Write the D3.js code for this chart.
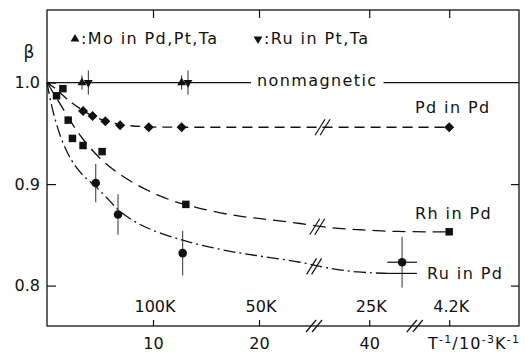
<!DOCTYPE html>
<html>
<head>
<meta charset="utf-8">
<script src="https://cdn.jsdelivr.net/npm/d3@7"></script>
<style>
  body { margin: 0; background: #fff; }
  text { font-family: "DejaVu Sans", sans-serif; fill: #111; }
</style>
</head>
<body>
<svg id="chart" width="525" height="352"></svg>
<script>
// ---- data (x = T^-1 in 10^-3 K^-1, y = beta) ----
var xTickValues = [10, 20, 40, 238];
var xTickLabels = ["10", "20", "40", ""];
var tempLabels  = ["100K", "50K", "25K", "4.2K"];
var yTickValues = [0.8, 0.9, 1.0];
var yTickLabels = ["0.8", "0.9", "1.0"];

var pdInPd = [[3.4, 0.972], [4.3, 0.967], [5.5, 0.962], [6.9, 0.958], [9.6, 0.956], [12.7, 0.956], [238, 0.956]];
var rhInPd = [[0.9, 0.987], [1.5, 0.994], [2.0, 0.963], [2.4, 0.945], [3.4, 0.938], [5.2, 0.932], [13.1, 0.880], [238, 0.853]];
var ruInPd = [[4.6, 0.901], [6.7, 0.870], [12.8, 0.832], [43.1, 0.823]];
var ruInPdErr = [0.019, 0.020, 0.022, 0.025];
var ruInPdLow = [[43.1, 0.812]];
var ruInPdXErr = 1.4;

var moInPdPtTa = [[3.3, 1.0], [12.7, 1.0]];
var moErr = [0.007, 0.007];
var ruInPtTa = [[3.9, 1.0], [13.3, 1.0]];
var ruPtTaErr = [0.012, 0.012];

// guide curves
var pdCurve = [[0, 1.0], [0.85, 0.994], [1.8, 0.984], [3.4, 0.972], [4.3, 0.967], [5.5, 0.962], [6.9, 0.958],
  [9.7, 0.956], [13, 0.956], [20, 0.956], [36, 0.956], [42, 0.956], [238, 0.956]];
var rhCurve = [[0, 1.0], [0.6, 0.990], [1.3, 0.978], [2.2, 0.962], [3.3, 0.945], [4.6, 0.929], [6.2, 0.914],
  [8.1, 0.901], [10.4, 0.889], [12.5, 0.881], [14.4, 0.876], [17.5, 0.869], [20.1, 0.866], [24.2, 0.861],
  [36.0, 0.857], [39.2, 0.855], [42.3, 0.853], [238, 0.853]];
var ruCurve = [[0, 1.0], [0.3, 0.983], [0.7, 0.966], [1.2, 0.948], [1.9, 0.931], [2.6, 0.918], [3.5, 0.907],
  [4.6, 0.898], [5.7, 0.886], [6.8, 0.873], [8.5, 0.861], [10.5, 0.852], [12.7, 0.845], [14.4, 0.840],
  [17.5, 0.833], [20.1, 0.829], [24.2, 0.823], [36.0, 0.817], [38.9, 0.813], [41.8, 0.812]];

var curveBreaks = [[35.6, 0.956], [35.1, 0.858], [34.8, 0.819]];
var axisBreaks = [34.8, 44.3];

// ---- layout ----
var svg = d3.select("#chart"),
    margin = {top: 10, right: 6, bottom: 26, left: 47},
    width = +svg.attr("width") - margin.left - margin.right,
    height = +svg.attr("height") - margin.top - margin.bottom,
    g = svg.append("g").attr("transform", "translate(" + margin.left + "," + margin.top + ")");

var ink = "#111";

// broken x axis: three linear pieces with the same slope
var x = d3.scaleLinear()
    .domain([0, 25, 34.7, 44.6, 235.1, 244.6])
    .range([0, 265, 266, 371, 371.5, 472]);
var y = d3.scaleLinear().domain([0.7602, 1.0715]).range([height, 0]);

function styleAxis(sel) {
  sel.select(".domain").remove();
  sel.selectAll(".tick line").attr("stroke", ink).attr("stroke-width", 1.2);
  sel.selectAll("text").attr("font-family", "DejaVu Sans").attr("font-size", 16).attr("fill", ink);
}

g.append("g")
    .attr("transform", "translate(0," + height + ")")
    .call(d3.axisBottom(x).tickValues(xTickValues).tickSize(-6).tickPadding(12)
      .tickFormat(function(d, i) { return xTickLabels[i]; }))
    .call(styleAxis);

g.append("g")
    .call(d3.axisTop(x).tickValues(xTickValues).tickSize(-8).tickFormat(""))
    .call(styleAxis);

g.append("g")
    .call(d3.axisLeft(y).tickValues(yTickValues).tickSize(-9).tickPadding(7)
      .tickFormat(function(d, i) { return yTickLabels[i]; }))
    .call(styleAxis);

g.append("g")
    .attr("transform", "translate(" + width + ",0)")
    .call(d3.axisRight(y).tickValues([0.8, 0.9]).tickSize(-8).tickFormat(""))
    .call(styleAxis);

g.append("rect")
    .attr("width", width).attr("height", height)
    .attr("fill", "none").attr("stroke", ink).attr("stroke-width", 1.3);

// temperature labels inside the frame
g.selectAll(".temp")
  .data(xTickValues)
  .enter().append("text")
    .attr("class", "temp")
    .attr("x", function(d) { return x(d) + 2; })
    .attr("y", height - 14)
    .attr("text-anchor", "middle")
    .attr("font-size", 16)
    .text(function(d, i) { return tempLabels[i]; });

// axis title at bottom right
var xt = g.append("text")
    .attr("x", 381).attr("y", height + 23)
    .attr("font-size", 16).attr("letter-spacing", 1.2);
xt.append("tspan").text("T");
xt.append("tspan").attr("dy", -6).attr("font-size", 11).text("-1");
xt.append("tspan").attr("dy", 6).text("/10");
xt.append("tspan").attr("dy", -6).attr("font-size", 11).text("-3");
xt.append("tspan").attr("dy", 6).text("K");
xt.append("tspan").attr("dy", -6).attr("font-size", 11).text("-1");

g.append("text")
    .attr("x", -18).attr("y", 48)
    .attr("text-anchor", "middle")
    .attr("font-size", 17)
    .text("β");

// nonmagnetic line at beta = 1, interrupted by its label
var nm = g.append("text")
    .attr("x", 210).attr("y", y(1.0) + 3)
    .attr("font-size", 16).attr("letter-spacing", 1.4)
    .text("nonmagnetic");
var nmLen = nm.node().getComputedTextLength();
g.append("line").attr("x1", 0).attr("x2", 204).attr("y1", y(1.0)).attr("y2", y(1.0))
    .attr("stroke", ink).attr("stroke-width", 1.2);
g.append("line").attr("x1", 210 + nmLen + 6).attr("x2", width).attr("y1", y(1.0)).attr("y2", y(1.0))
    .attr("stroke", ink).attr("stroke-width", 1.2);

// guide curves
var line = d3.line()
    .curve(d3.curveBasis)
    .x(function(d) { return x(d[0]); })
    .y(function(d) { return y(d[1]); });

var curves = [
  {data: pdCurve, dash: "10,6"},
  {data: rhCurve, dash: "13,7"},
  {data: ruCurve, dash: "12,4,2,4"}
];
g.selectAll(".curve")
  .data(curves)
  .enter().append("path")
    .attr("class", "curve")
    .attr("d", function(d) { return line(d.data); })
    .attr("fill", "none")
    .attr("stroke", ink)
    .attr("stroke-width", 1.3)
    .attr("stroke-dasharray", function(d) { return d.dash; });

// break marks "//"
function slashes(cx, cy, dx, dy, gap) {
  [-gap / 2, gap / 2].forEach(function(o) {
    g.append("line")
      .attr("x1", cx + o - dx).attr("y1", cy + dy)
      .attr("x2", cx + o + dx).attr("y2", cy - dy)
      .attr("stroke", ink).attr("stroke-width", 1.2);
  });
}
curveBreaks.forEach(function(d) { slashes(x(d[0]), y(d[1]), 5, 8, 5); });
axisBreaks.forEach(function(d) { slashes(x(d), height, 5, 6, 6); });

// error bars
function vbars(data, errs) {
  g.selectAll(null)
    .data(data)
    .enter().append("line")
      .attr("x1", function(d) { return x(d[0]); })
      .attr("x2", function(d) { return x(d[0]); })
      .attr("y1", function(d, i) { return y(d[1] - errs[i]); })
      .attr("y2", function(d, i) { return y(d[1] + errs[i]); })
      .attr("stroke", "#333").attr("stroke-width", 1);
}
vbars(ruInPd, ruInPdErr);
vbars(moInPdPtTa, moErr);
vbars(ruInPtTa, ruPtTaErr);

var lastRu = ruInPd[ruInPd.length - 1];
g.selectAll(null)
  .data([lastRu].concat(ruInPdLow))
  .enter().append("line")
    .attr("x1", function(d) { return x(d[0] - ruInPdXErr); })
    .attr("x2", function(d) { return x(d[0] + ruInPdXErr); })
    .attr("y1", function(d) { return y(d[1]); })
    .attr("y2", function(d) { return y(d[1]); })
    .attr("stroke", ink).attr("stroke-width", 1.2);

// markers
function markers(data, type, size, rot) {
  g.selectAll(null)
    .data(data)
    .enter().append("path")
      .attr("d", d3.symbol().type(type).size(size))
      .attr("transform", function(d) {
        return "translate(" + x(d[0]) + "," + y(d[1]) + ") rotate(" + rot + ")";
      })
      .attr("fill", ink);
}
markers(pdInPd, d3.symbolSquare, 50, 45);
markers(rhInPd, d3.symbolSquare, 56, 0);
markers(ruInPd, d3.symbolCircle, 58, 0);
markers(moInPdPtTa, d3.symbolTriangle, 34, 0);
markers(ruInPtTa, d3.symbolTriangle, 34, 180);

// legend
var legend = [
  {x: 28, sym: 0, label: ":Mo in Pd,Pt,Ta"},
  {x: 211, sym: 180, label: ":Ru in Pt,Ta"}
];
var lg = g.selectAll(".legend")
  .data(legend)
  .enter().append("g")
    .attr("class", "legend")
    .attr("transform", function(d) { return "translate(" + d.x + ",29)"; });
lg.append("path")
    .attr("d", d3.symbol().type(d3.symbolTriangle).size(34))
    .attr("transform", function(d) { return "rotate(" + d.sym + ")"; })
    .attr("fill", ink);
lg.append("text")
    .attr("x", 6).attr("y", 4.5)
    .attr("font-size", 16).attr("letter-spacing", 1.4)
    .text(function(d) { return d.label; });

// series labels
var seriesLabels = [
  {text: "Pd in Pd", x: 368, y: 103},
  {text: "Rh in Pd", x: 368, y: 209},
  {text: "Ru in Pd", x: 380, y: 269}
];
g.selectAll(".slabel")
  .data(seriesLabels)
  .enter().append("text")
    .attr("class", "slabel")
    .attr("x", function(d) { return d.x; })
    .attr("y", function(d) { return d.y; })
    .attr("font-size", 16).attr("letter-spacing", 1.4)
    .text(function(d) { return d.text; });
</script>
</body>
</html>
